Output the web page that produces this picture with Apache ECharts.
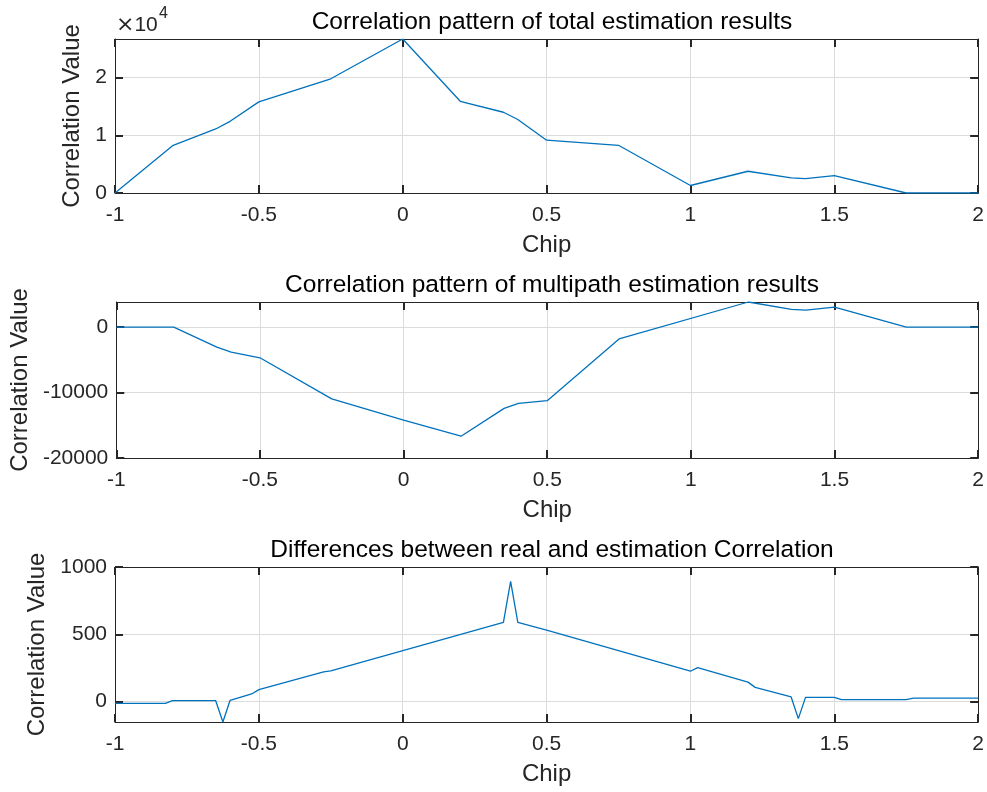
<!DOCTYPE html>
<html>
<head>
<meta charset="utf-8">
<script src="https://cdn.jsdelivr.net/npm/echarts@6/dist/echarts.min.js"></script>
<style>
  html, body { margin: 0; background: #fff; }
  #chart { width: 987px; height: 792px; }
</style>
</head>
<body>
<div id="chart"></div>
<script>
// data
const totalX = [-1, -0.8, -0.65, -0.6, -0.5, -0.25, 0, 0.2, 0.35, 0.4, 0.5, 0.75, 1, 1.2, 1.35, 1.4, 1.5, 1.75, 2];
const totalY = [0, 8200, 11100, 12430, 15800, 19800, 26700, 15900, 14000, 12750, 9150, 8270, 1300, 3770, 2620, 2500, 3000, 0, 0];

const multiX = [-1, -0.8, -0.65, -0.6, -0.5, -0.25, 0, 0.2, 0.35, 0.4, 0.5, 0.75, 1.2, 1.35, 1.4, 1.5, 1.75, 2];
const multiY = [0, 0, -3050, -3800, -4680, -10970, -14200, -16670, -12410, -11640, -11230, -1800, 3850, 2720, 2610, 3080, 0, 0];

const diffX = [-1, -0.825, -0.8, -0.65, -0.625, -0.6, -0.525, -0.5, -0.275, -0.25, 0.35, 0.375, 0.4, 0.5,
  1, 1.025, 1.2, 1.225, 1.35, 1.375, 1.4, 1.5, 1.525, 1.75, 1.775, 2];
const diffY = [-12, -12, 7, 7, -151, 10, 57, 89, 221, 228, 589, 894, 589, 531,
  226, 253, 145, 106, 35, -126, 32, 32, 15, 15, 27, 27];

const xTicks = [-1, -0.5, 0, 0.5, 1, 1.5, 2];
const yTicks1 = [0, 10000, 20000];
const yTicks2 = [-20000, -10000, 0];
const yTicks3 = [0, 500, 1000];

const titles = [
  'Correlation pattern of total estimation results',
  'Correlation pattern of multipath estimation results',
  'Differences between real and estimation Correlation'
];

const font = "'Liberation Sans', Arial, sans-serif";
const textColor = '#262626';
const lineColor = '#0072BD';

const grids = [
  { left: 115, width: 864, top: 39, height: 154 },
  { left: 115, width: 864, top: 302, height: 156 },
  { left: 115, width: 864, top: 567, height: 155 }
];
const yRanges = [[0, 26700], [-20000, 3850], [-151, 1000]];
const yTickSets = [yTicks1, yTicks2, yTicks3];
const yNameGaps = [23, 70, 61];
const titleTops = [5, 268, 533];

const axisLine = { show: true, onZero: false, lineStyle: { color: textColor, width: 1 } };
const axisTick = { show: true, inside: true, length: 8, lineStyle: { color: textColor, width: 2 } };
const splitLine = { show: true, lineStyle: { color: '#dcdcdc', width: 1 } };

const xAxes = [];
const yAxes = [];
const series = [];
const pairs = [[totalX, totalY], [multiX, multiY], [diffX, diffY]];

grids.forEach((g, i) => {
  xAxes.push({
    type: 'value', gridIndex: i, position: 'bottom',
    min: -1, max: 2, interval: 0.5,
    name: 'Chip', nameLocation: 'middle', nameGap: 40,
    nameTextStyle: { color: textColor, fontSize: 24, fontFamily: font },
    axisLine, axisTick, splitLine,
    axisLabel: { color: textColor, fontSize: 21, fontFamily: font, margin: 12,
      customValues: xTicks },
  });
  // top edge of the box, ticks only
  xAxes.push({
    type: 'value', gridIndex: i, position: 'top',
    min: -1, max: 2, interval: 0.5,
    axisLine, axisTick, splitLine: { show: false }, axisLabel: { show: false }
  });
  const ticks = yTickSets[i];
  yAxes.push({
    type: 'value', gridIndex: i, position: 'left',
    min: yRanges[i][0], max: yRanges[i][1],
    name: 'Correlation Value', nameLocation: 'middle', nameGap: yNameGaps[i],
    nameTextStyle: { color: textColor, fontSize: 24, fontFamily: font },
    axisLine,
    axisTick: { ...axisTick, customValues: ticks },
    splitLine,
    axisLabel: {
      color: textColor, fontSize: 21, fontFamily: font, margin: 8,
      customValues: ticks,
      formatter: i === 0 ? (v => String(v / 10000)) : (v => String(v))
    }
  });
  // right edge of the box
  yAxes.push({
    type: 'value', gridIndex: i, position: 'right',
    min: yRanges[i][0], max: yRanges[i][1],
    axisLine,
    axisTick: { ...axisTick, customValues: ticks },
    splitLine: { show: false },
    axisLabel: { show: false }
  });
  const [xs, ys] = pairs[i];
  series.push({
    type: 'line', xAxisIndex: 2 * i, yAxisIndex: 2 * i,
    data: xs.map((x, k) => [x, ys[k]]),
    showSymbol: false, symbol: 'none', clip: true,
    lineStyle: { color: lineColor, width: 1.3 },
    animation: false
  });
});

const chart = echarts.init(document.getElementById('chart'));
chart.setOption({
  backgroundColor: '#fff',
  animation: false,
  title: titles.map((t, i) => ({
    text: t, left: 547, top: titleTops[i], textAlign: 'center',
    textStyle: { color: '#000', fontSize: 24.5, fontWeight: 'normal', fontFamily: font }
  })),
  grid: grids,
  xAxis: xAxes,
  yAxis: yAxes,
  series,
  graphic: [
    { type: 'text', left: 116, top: 14,
      style: {
        text: '{x|×}{n|10}',
        rich: {
          x: { fill: textColor, fontSize: 22, fontFamily: "'DejaVu Sans', sans-serif" },
          n: { fill: textColor, fontSize: 21, fontFamily: font }
        }
      } },
    { type: 'text', left: 159, top: 6,
      style: { text: '4', fill: textColor, fontSize: 16, fontFamily: font } }
  ]
});
</script>
</body>
</html>
